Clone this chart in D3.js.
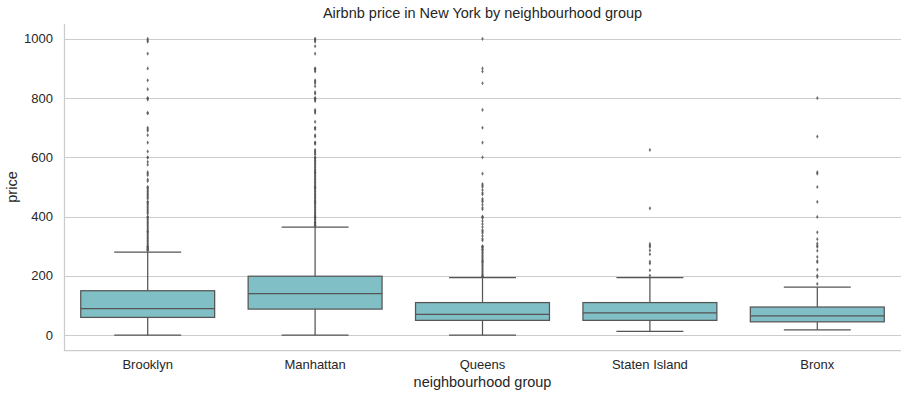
<!DOCTYPE html>
<html>
<head>
<meta charset="utf-8">
<script src="https://cdn.jsdelivr.net/npm/d3@7"></script>
<style>
  body { margin: 0; background: #fff; }
  text { font-family: 'Liberation Sans', Arial, sans-serif; fill: #262626; }
</style>
</head>
<body>
<svg id="chart" width="908" height="397"></svg>
<script>
const groups = ['Brooklyn', 'Manhattan', 'Queens', 'Staten Island', 'Bronx']
const q1 = [60, 88, 50, 50, 45]
const medians = [90, 140, 70, 75, 65]
const q3 = [150, 199, 110, 110, 95]
const whiskerLow = [0, 0, 0, 13, 18]
const whiskerHigh = [280, 365, 194, 194, 162]
const yTicks = [0, 200, 400, 600, 800, 1000]

const brooklynOutliers = [1000, 995, 990, 950, 900, 860, 830, 800, 799, 795, 750, 749, 700, 695, 690, 675, 650, 620, 600, 599, 585, 575, 550, 545, 540, 525, 520, 500, 499, 495, 490, 485, 480, 475, 470, 465, 460, 450, 449, 445, 440, 435, 430, 425, 420, 415, 410, 400, 399, 395, 390, 385, 380, 375, 370, 365, 360, 355, 350, 349, 345, 340, 335, 330, 325, 320, 315, 310, 305, 300, 299, 298, 295, 293, 290, 289, 288, 285]
const manhattanOutliers = [1000, 999, 995, 990, 975, 950, 900, 899, 895, 890, 860, 855, 850, 840, 820, 815, 800, 799, 798, 795, 790, 760, 755, 750, 720, 700, 699, 695, 675, 670, 650, 649, 645, 625, 620, 615, 610, 600, 599, 595, 590, 585, 580, 575, 570, 565, 560, 555, 550, 549, 545, 540, 535, 530, 525, 520, 515, 510, 505, 500, 499, 498, 495, 490, 485, 480, 475, 470, 465, 460, 455, 450, 449, 445, 440, 435, 430, 425, 420, 415, 410, 405, 400, 399, 398, 395, 390, 385, 380, 379, 375, 372, 370, 369]
const queensOutliers = [1000, 900, 890, 850, 760, 700, 650, 600, 545, 510, 505, 500, 490, 480, 475, 460, 455, 450, 440, 430, 425, 400, 399, 395, 385, 375, 365, 355, 350, 345, 335, 325, 320, 300, 299, 298, 295, 290, 289, 285, 280, 275, 270, 265, 260, 255, 250, 249, 245, 240, 235, 230, 225, 220, 215, 210, 205, 200, 199, 198]
const statenOutliers = [625, 428, 308, 302, 298, 286, 273, 248, 242, 219, 201]
const bronxOutliers = [800, 670, 550, 545, 500, 450, 399, 347, 324, 309, 302, 298, 285, 264, 250, 246, 221, 201, 196, 173]
const outliers = [brooklynOutliers, manhattanOutliers, queensOutliers, statenOutliers, bronxOutliers]

const boxFill = '#7fbfc5'
const lineColor = '#555555'
const gridColor = '#cccccc'

const svg = d3.select('#chart')

const x = d3.scaleBand().domain(groups).range([64, 901]).padding(0)
const y = d3.scaleLinear().domain([-50, 1050]).range([350, 24])

// grid
svg.append('g')
  .selectAll('line')
  .data(yTicks)
  .join('line')
  .attr('x1', 64)
  .attr('x2', 901)
  .attr('y1', (d) => Math.round(y(d)) + 0.5)
  .attr('y2', (d) => Math.round(y(d)) + 0.5)
  .attr('stroke', gridColor)
  .attr('stroke-width', 1)

// spines
svg.append('line')
  .attr('x1', 64.5).attr('x2', 64.5)
  .attr('y1', 24).attr('y2', 350)
  .attr('stroke', gridColor).attr('stroke-width', 1.25)
svg.append('line')
  .attr('x1', 64).attr('x2', 901)
  .attr('y1', 350.5).attr('y2', 350.5)
  .attr('stroke', gridColor).attr('stroke-width', 1.25)

const data = groups.map((g, i) => ({
  name: g,
  q1: q1[i],
  med: medians[i],
  q3: q3[i],
  lo: whiskerLow[i],
  hi: whiskerHigh[i],
  fliers: outliers[i],
}))

const boxW = x.bandwidth() * 0.8
const capW = boxW / 2

const box = svg.append('g')
  .selectAll('g.box')
  .data(data)
  .join('g')
  .attr('class', 'box')
  .attr('transform', (d) => `translate(${x(d.name) + x.bandwidth() / 2},0)`)

// whiskers
box.append('line')
  .attr('x1', 0).attr('x2', 0)
  .attr('y1', (d) => y(d.q3)).attr('y2', (d) => y(d.hi))
  .attr('stroke', lineColor).attr('stroke-width', 1.25)
box.append('line')
  .attr('x1', 0).attr('x2', 0)
  .attr('y1', (d) => y(d.q1)).attr('y2', (d) => y(d.lo))
  .attr('stroke', lineColor).attr('stroke-width', 1.25)
box.append('line')
  .attr('x1', -capW / 2).attr('x2', capW / 2)
  .attr('y1', (d) => y(d.hi)).attr('y2', (d) => y(d.hi))
  .attr('stroke', lineColor).attr('stroke-width', 1.25)
box.append('line')
  .attr('x1', -capW / 2).attr('x2', capW / 2)
  .attr('y1', (d) => y(d.lo)).attr('y2', (d) => y(d.lo))
  .attr('stroke', lineColor).attr('stroke-width', 1.25)

// box
box.append('rect')
  .attr('x', -boxW / 2)
  .attr('width', boxW)
  .attr('y', (d) => y(d.q3))
  .attr('height', (d) => y(d.q1) - y(d.q3))
  .attr('fill', boxFill)
  .attr('stroke', lineColor)
  .attr('stroke-width', 1.25)
box.append('line')
  .attr('x1', -boxW / 2).attr('x2', boxW / 2)
  .attr('y1', (d) => y(d.med)).attr('y2', (d) => y(d.med))
  .attr('stroke', lineColor).attr('stroke-width', 1.25)

// fliers
const diamond = d3.symbol().type(d3.symbolDiamond).size(5)
box.selectAll('path.flier')
  .data((d) => d.fliers)
  .join('path')
  .attr('class', 'flier')
  .attr('d', diamond)
  .attr('transform', (v) => `translate(0,${y(v)})`)
  .attr('fill', lineColor)
  .attr('fill-opacity', 0.85)

// tick labels
svg.append('g')
  .selectAll('text')
  .data(yTicks)
  .join('text')
  .attr('x', 53)
  .attr('y', (d) => y(d))
  .attr('dy', '0.35em')
  .attr('text-anchor', 'end')
  .style('font-size', '13px')
  .text((d) => d)

svg.append('g')
  .selectAll('text')
  .data(groups)
  .join('text')
  .attr('x', (d) => x(d) + x.bandwidth() / 2)
  .attr('y', 369)
  .attr('text-anchor', 'middle')
  .style('font-size', '13px')
  .text((d) => d)

// axis labels and title
svg.append('text')
  .attr('x', (64 + 901) / 2)
  .attr('y', 386.5)
  .attr('text-anchor', 'middle')
  .style('font-size', '14.5px')
  .text('neighbourhood group')

svg.append('text')
  .attr('transform', `translate(17,${(24 + 350) / 2}) rotate(-90)`)
  .attr('text-anchor', 'middle')
  .style('font-size', '14.5px')
  .text('price')

svg.append('text')
  .attr('x', (64 + 901) / 2)
  .attr('y', 17.5)
  .attr('text-anchor', 'middle')
  .style('font-size', '14.5px')
  .text('Airbnb price in New York by neighbourhood group')
</script>
</body>
</html>
